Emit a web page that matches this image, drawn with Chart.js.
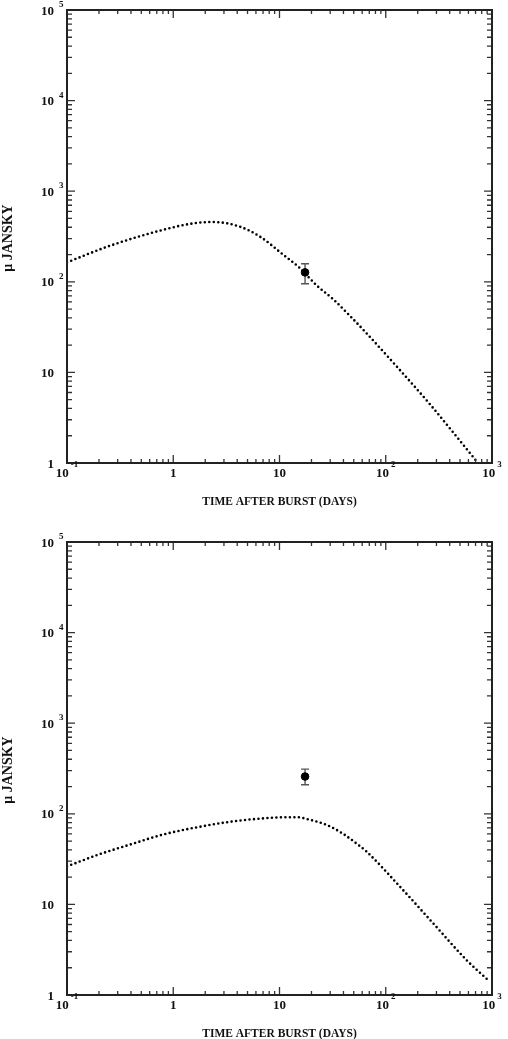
<!DOCTYPE html>
<html>
<head>
<meta charset="utf-8">
<script src="https://cdn.jsdelivr.net/npm/chart.js@4.4.1/dist/chart.umd.min.js"></script>
<style>
  body { margin: 0; background: #fff; }
  canvas { position: absolute; left: 0; }
  #topPlot { top: 0; }
  #botPlot { top: 532px; }
</style>
</head>
<body>
<canvas id="topPlot" width="508" height="520"></canvas>
<canvas id="botPlot" width="508" height="507"></canvas>
<script>
// model curve, upper panel (days, micro Jy)
var topModelX = [0.1, 0.254, 0.75, 1.55, 2.38, 4.25, 6.55, 10.9, 15.6, 22.4, 32.1, 46.1, 61.5, 127, 261, 692, 740]
var topModelY = [164, 250, 367, 442, 457, 405, 315, 198, 141, 91, 64, 42, 29.5, 11.6, 4.44, 1.10, 1.0]
// observed point, upper panel
var topObsX = [17.4]
var topObsY = [127]
var topObsLo = [95]
var topObsHi = [158]

// model curve, lower panel
var botModelX = [0.1, 0.193, 0.398, 0.819, 1.68, 3.47, 7.14, 10.5, 14.7, 19.4, 27.8, 39.8, 55.2, 66.2, 136, 280, 578, 923]
var botModelY = [26.3, 35.1, 46.0, 59.4, 71.0, 81.8, 89.2, 91.4, 91.6, 85.7, 75.4, 60, 45.3, 38.1, 15.7, 6.17, 2.42, 1.45]
// observed point, lower panel
var botObsX = [17.4]
var botObsY = [258]
var botObsLo = [209]
var botObsHi = [311]

// tick labels
var xTickValues = [0.1, 1, 10, 100, 1000]
var xTickBase = ['10', '1', '10', '10', '10']
var xTickExp = ['-1', '', '', '2', '3']
var yTickValues = [1, 10, 100, 1000, 10000, 100000]
var yTickBase = ['1', '10', '10', '10', '10', '10']
var yTickExp = ['', '', '2', '3', '4', '5']
var minorSteps = [2, 3, 4, 5, 6, 7, 8, 9]

var xTitle = 'TIME AFTER BURST (DAYS)'
var yTitle = 'μ JANSKY'

function toPoints(xs, ys) {
    return xs.map((v, i) => ({ x: v, y: ys[i] }))
}

// error bars for the observed point
const errorBars = {
    id: 'errorBars',
    beforeDatasetsDraw(chart, args, opts) {
        const { ctx, scales: { x, y } } = chart
        ctx.save()
        ctx.strokeStyle = '#555'
        ctx.lineWidth = 1.4
        opts.xs.forEach((v, i) => {
            const px = x.getPixelForValue(v)
            const lo = y.getPixelForValue(opts.lo[i])
            const hi = y.getPixelForValue(opts.hi[i])
            ctx.beginPath()
            ctx.moveTo(px, lo); ctx.lineTo(px, hi)
            ctx.moveTo(px - 4, lo); ctx.lineTo(px + 4, lo)
            ctx.moveTo(px - 4, hi); ctx.lineTo(px + 4, hi)
            ctx.stroke()
        })
        ctx.restore()
    }
}

// box, inward ticks on all sides, labels with exponents, titles
const frameAxes = {
    id: 'frameAxes',
    afterDraw(chart) {
        const { ctx, chartArea: a, scales: { x, y } } = chart
        ctx.save()
        ctx.strokeStyle = '#333'
        ctx.lineWidth = 1.3
        ctx.beginPath()
        xTickValues.forEach((v, k) => {
            const decades = [v]
            if (k < xTickValues.length - 1) minorSteps.forEach(m => decades.push(v * m))
            decades.forEach((t, j) => {
                const px = x.getPixelForValue(t)
                const len = j == 0 ? 8 : 4
                ctx.moveTo(px, a.bottom); ctx.lineTo(px, a.bottom - len)
                ctx.moveTo(px, a.top); ctx.lineTo(px, a.top + len)
            })
        })
        yTickValues.forEach((v, k) => {
            const decades = [v]
            if (k < yTickValues.length - 1) minorSteps.forEach(m => decades.push(v * m))
            decades.forEach((t, j) => {
                const py = y.getPixelForValue(t)
                const len = j == 0 ? 8 : 5
                ctx.moveTo(a.left, py); ctx.lineTo(a.left + len, py)
                ctx.moveTo(a.right, py); ctx.lineTo(a.right - len, py)
            })
        })
        ctx.stroke()

        ctx.strokeStyle = '#222'
        ctx.lineWidth = 2
        ctx.strokeRect(a.left, a.top, a.right - a.left, a.bottom - a.top)

        ctx.fillStyle = '#111'
        const baseFont = 'bold 13px "Liberation Serif", serif'
        const expFont = 'bold 9px "Liberation Serif", serif'

        // y labels
        ctx.textBaseline = 'alphabetic'
        yTickValues.forEach((v, i) => {
            const py = y.getPixelForValue(v)
            ctx.font = baseFont
            ctx.textAlign = 'right'
            ctx.fillText(yTickBase[i], a.left - 13, py + 4.5)
            if (yTickExp[i]) {
                ctx.font = expFont
                ctx.textAlign = 'left'
                ctx.fillText(yTickExp[i], a.left - 8, py - 3)
            }
        })

        // x labels
        xTickValues.forEach((v, i) => {
            const px = x.getPixelForValue(v)
            ctx.font = baseFont
            const wb = ctx.measureText(xTickBase[i]).width
            ctx.font = expFont
            const we = xTickExp[i] ? ctx.measureText(xTickExp[i]).width + 2 : 0
            const left = px - (wb + we) / 2
            ctx.textAlign = 'left'
            ctx.font = baseFont
            ctx.fillText(xTickBase[i], left, a.bottom + 14)
            if (xTickExp[i]) {
                ctx.font = expFont
                ctx.fillText(xTickExp[i], left + wb + 2, a.bottom + 4)
            }
        })

        // titles
        ctx.font = 'bold 11.5px "Liberation Serif", serif'
        ctx.textAlign = 'center'
        ctx.textBaseline = 'middle'
        ctx.fillText(xTitle, (a.left + a.right) / 2, a.bottom + 39)

        ctx.save()
        ctx.translate(8, a.top + 228)
        ctx.rotate(-Math.PI / 2)
        ctx.font = 'bold 14px "Liberation Serif", serif'
        ctx.fillText(yTitle, 0, 0)
        ctx.restore()

        ctx.restore()
    }
}

function makePanel(id, mx, my, ox, oy, lo, hi, padBottom) {
    const config = {
        type: 'scatter',
        data: {
            datasets: [{
                data: toPoints(mx, my),
                showLine: true,
                borderColor: '#000',
                borderWidth: 2.6,
                borderDash: [0, 4.5],
                borderCapStyle: 'round',
                cubicInterpolationMode: 'monotone',
                pointRadius: 0
            }, {
                data: toPoints(ox, oy),
                backgroundColor: '#000',
                borderColor: '#000',
                pointRadius: 3.8
            }]
        },
        options: {
            responsive: false,
            animation: false,
            devicePixelRatio: 1,
            layout: { padding: { left: 67, right: 16, top: 10, bottom: padBottom } },
            plugins: {
                legend: { display: false },
                tooltip: { enabled: false },
                errorBars: { xs: ox, lo: lo, hi: hi }
            },
            scales: {
                x: { type: 'logarithmic', min: 0.1, max: 1000, display: false },
                y: { type: 'logarithmic', min: 1, max: 100000, display: false }
            }
        },
        plugins: [errorBars, frameAxes]
    }
    return new Chart(document.getElementById(id), config)
}

const topChart = makePanel('topPlot', topModelX, topModelY, topObsX, topObsY, topObsLo, topObsHi, 57)
const botChart = makePanel('botPlot', botModelX, botModelY, botObsX, botObsY, botObsLo, botObsHi, 44)
</script>
</body>
</html>
